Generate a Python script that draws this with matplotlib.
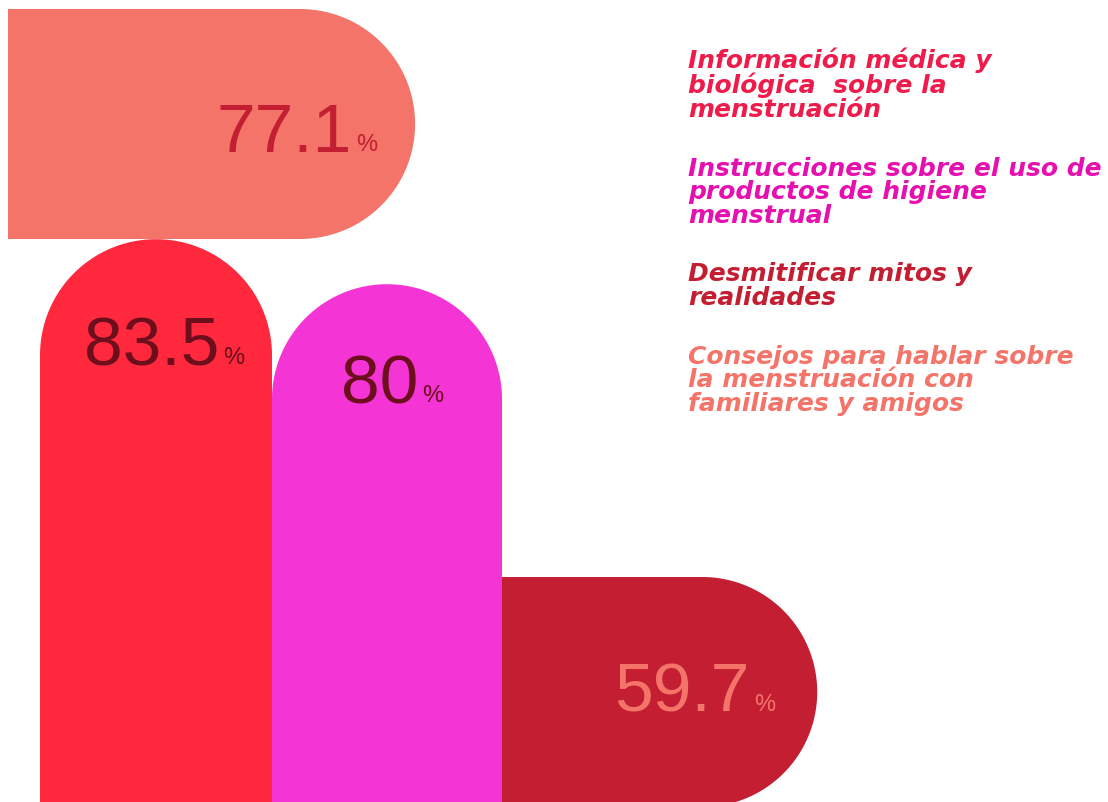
import numpy as np
import matplotlib
matplotlib.use("Agg")
import matplotlib.pyplot as plt
from matplotlib.patches import Polygon

# datos
categorias = [
    "Información médica y\nbiológica  sobre la\nmenstruación",
    "Instrucciones sobre el uso de\nproductos de higiene\nmenstrual",
    "Desmitificar mitos y\nrealidades",
    "Consejos para hablar sobre\nla menstruación con\nfamiliares y amigos",
]
valores = [83.5, 80.0, 59.7, 77.1]
colores_barra = ["#FF283C", "#F434D5", "#C31E32", "#F4746A"]
colores_texto = ["#EE1B4B", "#E60FAF", "#C31E32", "#F4746A"]
colores_valor = ["#6C0E1C", "#6C0E1C", "#F4746A", "#C31E32"]

W, H = 1108, 803


def barra_h(ax, x0, valor, escala, y_top, grosor, color):
    # barra horizontal con extremo derecho redondeado
    r = grosor / 2
    x_end = x0 + valor * escala
    cx, cy = x_end - r, y_top + r
    t = np.linspace(-np.pi / 2, np.pi / 2, 120)
    arco = np.column_stack([cx + r * np.cos(t), cy + r * np.sin(t)])
    pts = np.vstack([[x0, y_top], arco, [x0, y_top + grosor]])
    ax.add_patch(Polygon(pts, closed=True, facecolor=color, edgecolor="none"))
    return x_end


def barra_v(ax, x0, ancho, valor, base, escala, color):
    # barra vertical con extremo superior redondeado
    r = ancho / 2
    y_top = base - valor * escala
    cx, cy = x0 + r, y_top + r
    t = np.linspace(np.pi, 2 * np.pi, 120)
    arco = np.column_stack([cx + r * np.cos(t), cy + r * np.sin(t)])
    pts = np.vstack([[x0, H + 10], arco, [x0 + ancho, H + 10]])
    ax.add_patch(Polygon(pts, closed=True, facecolor=color, edgecolor="none"))
    return y_top


def etiqueta(ax, x_right, y_base, valor, color):
    txt = f"{valor:g}"
    ax.text(x_right, y_base, txt, ha="right", va="baseline", fontsize=50,
            color=color, family="Liberation Sans")
    ax.text(x_right + 4, y_base - 1, "%", ha="left", va="baseline", fontsize=17,
            color=color, family="Liberation Sans")


fig = plt.figure(figsize=(W / 100, H / 100), dpi=100)
ax = fig.add_axes([0, 0, 1, 1])
ax.set_xlim(0, W)
ax.set_ylim(H, 0)
ax.axis("off")

escala_h = 5.28
escala_v = 12.86
base_v = 1314

# barras horizontales
fin_sal = barra_h(ax, 8, valores[3], escala_h, 10, 230, colores_barra[3])
fin_osc = barra_h(ax, 502, valores[2], escala_h, 578, 230, colores_barra[2])

# barras verticales
top_rojo = barra_v(ax, 40, 232, valores[0], base_v, escala_v, colores_barra[0])
top_mag = barra_v(ax, 272, 230, valores[1], base_v, escala_v, colores_barra[1])

etiqueta(ax, 219, top_rojo + 125, valores[0], colores_valor[0])
etiqueta(ax, 418, top_mag + 118, valores[1], colores_valor[1])
etiqueta(ax, 750, 712, valores[2], colores_valor[2])
etiqueta(ax, 352, 152, valores[3], colores_valor[3])

# leyenda: un texto de varias lineas por categoria
# (va='baseline' en texto multilinea ancla la ultima linea)
y = 69
for cat, col in zip(categorias, colores_texto):
    n = cat.count("\n")
    ax.text(688, y + 24 * n, cat, ha="left", va="baseline", fontsize=18,
            fontweight="bold", fontstyle="italic", color=col,
            family="DejaVu Sans", linespacing=0.98)
    y += 24 * n + 58

fig.savefig("out.png", dpi=100)
